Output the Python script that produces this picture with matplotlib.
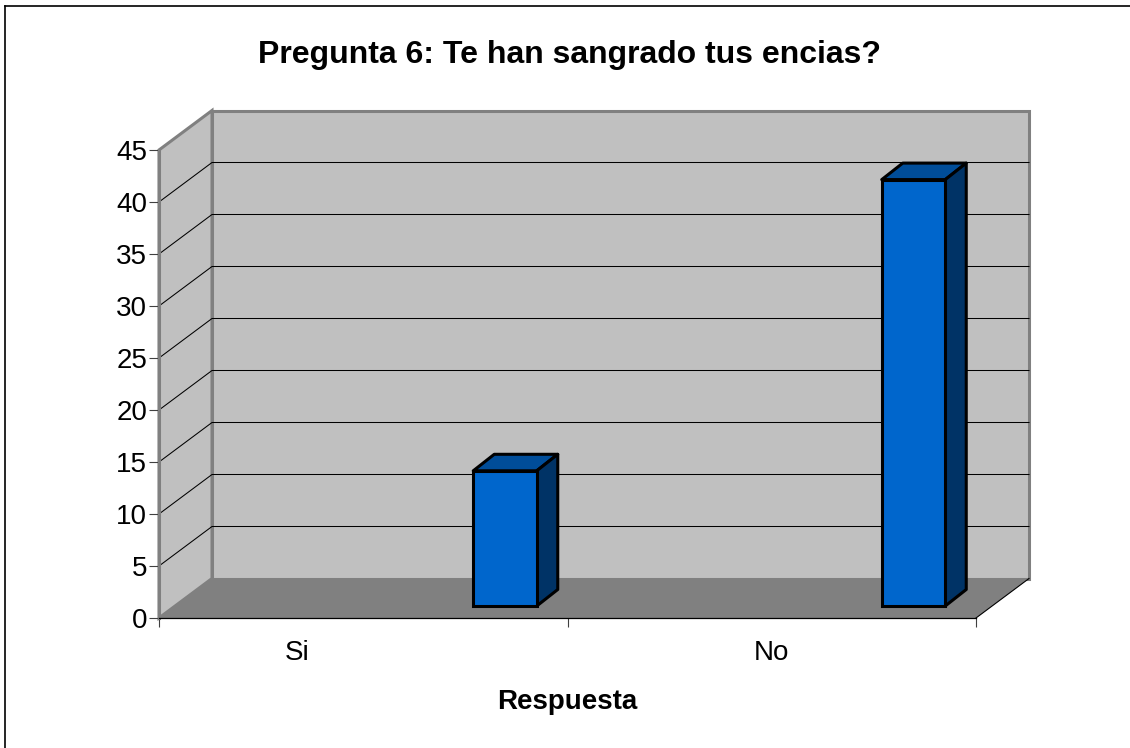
import matplotlib
matplotlib.use('Agg')
import matplotlib.pyplot as plt
from matplotlib.patches import Polygon
from matplotlib.lines import Line2D
import numpy as np

plt.rcParams['font.family'] = ['Liberation Sans', 'DejaVu Sans']

# Chart data
categories = ['Si', 'No']
values = [13, 41]
y_ticks = [0, 5, 10, 15, 20, 25, 30, 35, 40, 45]

W, H = 1130, 748
LEFT, RIGHT, TOP, BOTTOM = 159, 976, 150, 618

fig = plt.figure(figsize=(W / 100, H / 100), dpi=100)
ax = fig.add_axes([LEFT / W, 1 - BOTTOM / H, (RIGHT - LEFT) / W, (BOTTOM - TOP) / H])
ax.set_xlim(0, len(categories))
ax.set_ylim(0, 45)
ax.patch.set_visible(False)

# Pixel sizes expressed in data units
px_x = len(categories) / (RIGHT - LEFT)
px_y = 45 / (BOTTOM - TOP)
wall_dx, wall_dy = 53 * px_x, 39.5 * px_y
bar_dx, bar_dy = 21 * px_x, 16.5 * px_y
bar_base = 12 * px_y
bar_width = 63.5 * px_x
bar_x = np.arange(len(categories)) + 346 * px_x

x_max = len(categories)
GRAY = '#808080'

# Floor and walls of the box
ax.add_patch(Polygon([(wall_dx, wall_dy), (x_max + wall_dx, wall_dy),
                      (x_max + wall_dx, 45 + wall_dy), (wall_dx, 45 + wall_dy)],
                     facecolor='#c0c0c0', edgecolor=GRAY, lw=2.2, clip_on=False, zorder=1))
ax.add_patch(Polygon([(0, 0), (wall_dx, wall_dy), (wall_dx, 45 + wall_dy), (0, 45)],
                     facecolor='#c0c0c0', edgecolor=GRAY, lw=2.2, clip_on=False, zorder=1))
ax.add_patch(Polygon([(0, 0), (x_max, 0), (x_max + wall_dx, wall_dy), (wall_dx, wall_dy)],
                     facecolor=GRAY, edgecolor='none', clip_on=False, zorder=1.5))
ax.plot([x_max, x_max + wall_dx], [0, wall_dy], color='black', lw=0.8, clip_on=False, zorder=1.6)

# Gridlines run along the side wall and the back wall
for t in y_ticks[1:-1]:
    ax.plot([0, wall_dx, x_max + wall_dx], [t, t + wall_dy, t + wall_dy],
            color='black', lw=0.75, clip_on=False, zorder=2)

# Bars: front face, top and side
ax.bar(bar_x, values, width=bar_width, bottom=bar_base, color='#0066cc',
       edgecolor='black', linewidth=2.2, zorder=4, clip_on=False)
for cx, v in zip(bar_x, values):
    x0, x1 = cx - bar_width / 2, cx + bar_width / 2
    y0, y1 = bar_base, bar_base + v
    ax.add_patch(Polygon([(x0, y1), (x1, y1), (x1 + bar_dx, y1 + bar_dy), (x0 + bar_dx, y1 + bar_dy)],
                         facecolor='#004d99', edgecolor='black', lw=2.2, joinstyle='round',
                         clip_on=False, zorder=3))
    ax.add_patch(Polygon([(x1, y0), (x1 + bar_dx, y0 + bar_dy), (x1 + bar_dx, y1 + bar_dy), (x1, y1)],
                         facecolor='#003366', edgecolor='black', lw=2.2, joinstyle='round',
                         clip_on=False, zorder=3))

# Axes
for side in ['top', 'right']:
    ax.spines[side].set_visible(False)
ax.spines['left'].set_color(GRAY)
ax.spines['left'].set_linewidth(2.2)
ax.spines['left'].set_zorder(3)
ax.spines['bottom'].set_color('black')
ax.spines['bottom'].set_linewidth(0.9)
ax.spines['bottom'].set_zorder(3)

ax.set_yticks(y_ticks)
ax.tick_params(axis='y', length=7, width=0.8, color='#404040', labelsize=20, pad=1.5)
ax.set_xticks(np.arange(x_max + 1))
ax.set_xticklabels([])
ax.tick_params(axis='x', which='major', length=6.5, width=0.8, color='#404040')
ax.set_xticks([0.338, 1.5], minor=True)
ax.set_xticklabels(categories, minor=True)
ax.tick_params(axis='x', which='minor', length=0, labelsize=20, pad=16)

fig.text(569 / W, 1 - 55 / H, 'Pregunta 6: Te han sangrado tus encias?', ha='center', va='center',
         fontsize=23, fontweight='bold')
fig.text(567 / W, 1 - 702 / H, 'Respuesta', ha='center', va='center', fontsize=20, fontweight='bold')

# Chart area frame
fig.add_artist(Line2D([4.5 / W, 4.5 / W], [0, 1 - 5.5 / H], color='black', lw=1.2))
fig.add_artist(Line2D([4.5 / W, 1], [1 - 5.5 / H, 1 - 5.5 / H], color='black', lw=1.2))

fig.savefig('out.png', dpi=100)
